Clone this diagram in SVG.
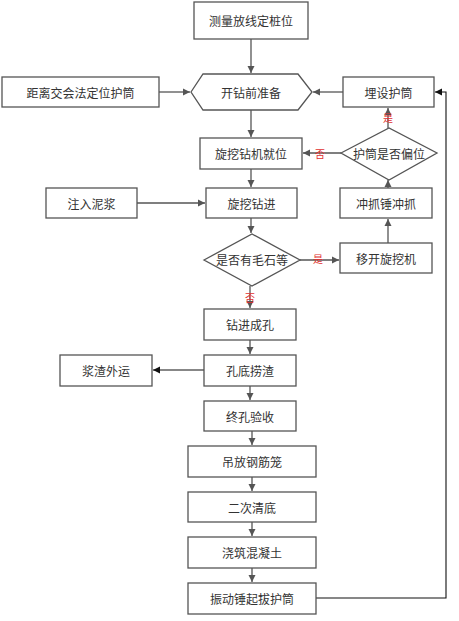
<svg xmlns="http://www.w3.org/2000/svg" width="459" height="621" viewBox="0 0 459 621">
<style>
.n{fill:#fff;stroke:#555;stroke-width:1.3}
.t{font-family:"Noto Sans CJK SC","Noto Sans CJK TC",sans-serif;font-size:12px;fill:#333;text-anchor:middle;dominant-baseline:central}
.c{fill:none;stroke:#555;stroke-width:1.3}
.k{fill:none;stroke:#111;stroke-width:1.1}
.l{font-family:"Noto Sans CJK SC",sans-serif;font-size:10px;fill:#e03030;text-anchor:middle;dominant-baseline:central}
</style>
<defs>
<marker id="a" markerWidth="8" markerHeight="8" refX="7" refY="4" orient="auto" markerUnits="userSpaceOnUse"><path d="M0,0.5 L7,4 L0,7.5 Z" fill="#555"/></marker>
<marker id="b" markerWidth="8" markerHeight="8" refX="7" refY="4" orient="auto" markerUnits="userSpaceOnUse"><path d="M0,0.5 L7,4 L0,7.5 Z" fill="#111"/></marker>
</defs>
<g id="connectors">
<path class="c" d="M251,39 V73" marker-end="url(#a)"/>
<path class="c" d="M159,92 H190" marker-end="url(#a)"/>
<path class="c" d="M343,92 H313" marker-end="url(#a)"/>
<path class="c" d="M251,110 V137" marker-end="url(#a)"/>
<path class="c" d="M341,153 H303" marker-end="url(#a)"/>
<path class="c" d="M388,128 V108" marker-end="url(#a)"/>
<path class="c" d="M388,188 V180" marker-end="url(#a)"/>
<path class="c" d="M251,169 V187" marker-end="url(#a)"/>
<path class="c" d="M137,203 H205" marker-end="url(#a)"/>
<path class="c" d="M251,218 V233" marker-end="url(#a)"/>
<path class="c" d="M300,260 H339" marker-end="url(#a)"/>
<path class="c" d="M388,243 V219" marker-end="url(#a)"/>
<path class="c" d="M250,286 V308" marker-end="url(#a)"/>
<path class="c" d="M250,340 V354" marker-end="url(#a)"/>
<path class="k" d="M204,370 H153" marker-end="url(#b)"/>
<path class="c" d="M250,386 V400" marker-end="url(#a)"/>
<path class="c" d="M252,431 V445" marker-end="url(#a)"/>
<path class="c" d="M252,477 V491" marker-end="url(#a)"/>
<path class="c" d="M252,522 V536" marker-end="url(#a)"/>
<path class="c" d="M252,568 V582" marker-end="url(#a)"/>
<path class="k" d="M316,598 H446 V92 H435" marker-end="url(#b)"/>
<text class="l" x="320" y="153">否</text>
<text class="l" x="388" y="117">是</text>
<text class="l" x="318" y="258">是</text>
<text class="l" x="250" y="297">否</text>
</g>
<g id="n1"><rect class="n" x="194" y="2" width="114" height="37"/><text class="t" x="251" y="20.5">测量放线定桩位</text></g>
<g id="n2"><polygon class="n" points="191,92 203,74 298,74 312,92 298,110 203,110"/><text class="t" x="251" y="92">开钻前准备</text></g>
<g id="n3"><rect class="n" x="2" y="77" width="157" height="30"/><text class="t" x="80.5" y="92">距离交会法定位护筒</text></g>
<g id="n4"><rect class="n" x="343" y="77" width="91" height="30"/><text class="t" x="388.5" y="92">埋设护筒</text></g>
<g id="n5"><rect class="n" x="200" y="138" width="102" height="31"/><text class="t" x="251" y="153.5">旋挖钻机就位</text></g>
<g id="n6"><polygon class="n" points="341,153 389,128 437,153 389,180"/><text class="t" x="389" y="153">护筒是否偏位</text></g>
<g id="n7"><rect class="n" x="340" y="188" width="92" height="30"/><text class="t" x="386" y="203">冲抓锤冲抓</text></g>
<g id="n8"><rect class="n" x="206" y="188" width="91" height="30"/><text class="t" x="251.5" y="203">旋挖钻进</text></g>
<g id="n9"><rect class="n" x="46" y="188" width="91" height="30"/><text class="t" x="91.5" y="203">注入泥浆</text></g>
<g id="n10"><polygon class="n" points="204,260 252,234 300,260 252,286"/><text class="t" x="252" y="259">是否有毛石等</text></g>
<g id="n11"><rect class="n" x="340" y="243" width="92" height="30"/><text class="t" x="386" y="258">移开旋挖机</text></g>
<g id="n12"><rect class="n" x="204" y="309" width="92" height="31"/><text class="t" x="250" y="324.5">钻进成孔</text></g>
<g id="n13"><rect class="n" x="204" y="355" width="92" height="31"/><text class="t" x="250" y="370.5">孔底捞渣</text></g>
<g id="n14"><rect class="n" x="60" y="355" width="92" height="31"/><text class="t" x="106" y="370.5">浆渣外运</text></g>
<g id="n15"><rect class="n" x="204" y="401" width="92" height="30"/><text class="t" x="250" y="416">终孔验收</text></g>
<g id="n16"><rect class="n" x="188" y="446" width="128" height="31"/><text class="t" x="252" y="461.5">吊放钢筋笼</text></g>
<g id="n17"><rect class="n" x="188" y="492" width="128" height="30"/><text class="t" x="252" y="507">二次清底</text></g>
<g id="n18"><rect class="n" x="188" y="537" width="128" height="31"/><text class="t" x="252" y="552.5">浇筑混凝土</text></g>
<g id="n19"><rect class="n" x="188" y="583" width="128" height="31"/><text class="t" x="252" y="598.5">振动锤起拔护筒</text></g>
</svg>
